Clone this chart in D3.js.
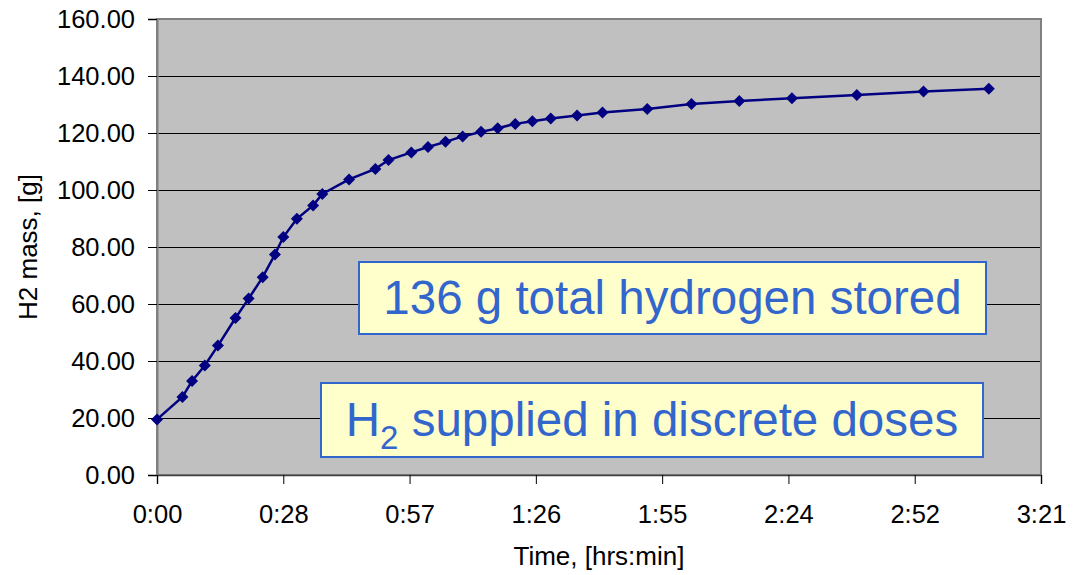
<!DOCTYPE html>
<html>
<head>
<meta charset="utf-8">
<script src="https://cdn.jsdelivr.net/npm/d3@7"></script>
<style>
  html, body { margin: 0; padding: 0; background: #fff; }
  svg { display: block; }
  text { font-family: Arial, "Liberation Sans", sans-serif; }
</style>
</head>
<body>
<svg id="chart" width="1079" height="575"></svg>
<script>
// ---- data (time in minutes, H2 mass in grams) ----
const timeMin = [0, 5.8, 8.0, 10.9, 13.9, 17.9, 20.9, 24.1, 26.9, 28.8, 31.9, 35.6, 37.7,
  43.8, 49.8, 52.8, 58.0, 61.8, 65.8, 69.7, 73.9, 77.7, 81.7, 85.6, 89.8, 95.8, 101.6,
  111.8, 121.9, 132.8, 144.8, 159.6, 174.8, 189.7];
const massG = [19.5, 27.4, 33.0, 38.4, 45.4, 55.1, 61.9, 69.4, 77.4, 83.5, 89.9, 94.6, 98.6,
  103.7, 107.4, 110.5, 113.2, 115.1, 116.9, 118.8, 120.4, 121.7, 123.2, 124.1, 125.1, 126.1, 127.2,
  128.4, 130.2, 131.2, 132.2, 133.3, 134.6, 135.5];
const xTicks = [0, 28.8, 57.6, 86.4, 115.2, 144, 172.8, 201.6];
const xTickLabels = ["0:00", "0:28", "0:57", "1:26", "1:55", "2:24", "2:52", "3:21"];
const yTicks = [0, 20, 40, 60, 80, 100, 120, 140, 160];
const yTickLabels = ["0.00", "20.00", "40.00", "60.00", "80.00", "100.00", "120.00", "140.00", "160.00"];
const xTitle = "Time, [hrs:min]";
const yTitle = "H2 mass, [g]";
const note1 = "136 g total hydrogen stored";

// ---- layout ----
const L = 157, R = 1041, T = 19, B = 475;
const svg = d3.select("#chart");
const x = d3.scaleLinear().domain([0, 201.6]).range([L, R]);
const y = d3.scaleLinear().domain([0, 160]).range([B, T]);

// plot area
svg.append("rect").attr("x", L).attr("y", T).attr("width", R - L).attr("height", B - T)
  .attr("fill", "#C0C0C0");

// gridlines
svg.append("g").selectAll("line").data(yTicks.slice(1)).join("line")
  .attr("x1", L).attr("x2", R)
  .attr("y1", d => Math.round(y(d)) + 0.5).attr("y2", d => Math.round(y(d)) + 0.5)
  .attr("stroke", "#000").attr("stroke-width", 1);

// plot border
svg.append("rect").attr("x", L).attr("y", T).attr("width", R - L).attr("height", B - T)
  .attr("fill", "none").attr("stroke", "#808080").attr("stroke-width", 2);

// y axis
const yAxis = d3.axisLeft(y).tickValues(yTicks).tickSize(9).tickPadding(13)
  .tickFormat((d, i) => yTickLabels[i]);
const gy = svg.append("g").attr("transform", `translate(${L},0)`).call(yAxis);
gy.select(".domain").attr("stroke", "#808080").attr("stroke-width", 2);
gy.selectAll(".tick line").attr("stroke", "#000");
gy.selectAll(".tick text").attr("font-size", 25.5).attr("fill", "#000")
  .attr("font-family", "Arial, 'Liberation Sans', sans-serif");

// x axis
const xAxis = d3.axisBottom(x).tickValues(xTicks).tickSize(9)
  .tickFormat((d, i) => xTickLabels[i]);
const gx = svg.append("g").attr("transform", `translate(0,${B})`).call(xAxis);
gx.select(".domain").attr("stroke", "#404040").attr("stroke-width", 1.5);
gx.selectAll(".tick line").attr("stroke", "#000");
gx.selectAll(".tick text").attr("font-size", 25.5).attr("fill", "#000")
  .attr("font-family", "Arial, 'Liberation Sans', sans-serif")
  .attr("dy", 0).attr("y", 48);

// axis titles
svg.append("text").attr("x", (L + R) / 2).attr("y", 565).attr("text-anchor", "middle")
  .attr("font-size", 26).attr("fill", "#000").text(xTitle);
svg.append("text").attr("transform", `translate(37,${(T + B) / 2}) rotate(-90)`)
  .attr("text-anchor", "middle").attr("font-size", 26).attr("fill", "#000").text(yTitle);

// series
const pts = timeMin.map((t, i) => [t, massG[i]]);
svg.append("path").datum(pts)
  .attr("d", d3.line().x(d => x(d[0])).y(d => y(d[1])))
  .attr("fill", "none").attr("stroke", "#000080").attr("stroke-width", 2.5);
const diamond = d3.symbol().type(d3.symbolSquare).size(72);
svg.append("g").selectAll("path").data(pts).join("path")
  .attr("transform", d => `translate(${x(d[0])},${y(d[1])}) rotate(45)`)
  .attr("d", diamond).attr("fill", "#000080");

// annotation boxes
const blue = "#3366CC";
svg.append("rect").attr("x", 359).attr("y", 262).attr("width", 627).attr("height", 72)
  .attr("fill", "#FFFFCC").attr("stroke", blue).attr("stroke-width", 2);
svg.append("text").attr("x", 672.5).attr("y", 314).attr("text-anchor", "middle")
  .attr("font-size", 47.5).attr("fill", blue).text(note1);

svg.append("rect").attr("x", 321).attr("y", 383).attr("width", 662).attr("height", 74)
  .attr("fill", "#FFFFCC").attr("stroke", blue).attr("stroke-width", 2);
const t2 = svg.append("text").attr("x", 652).attr("y", 435.5).attr("text-anchor", "middle")
  .attr("font-size", 47.5).attr("fill", blue);
t2.append("tspan").text("H");
t2.append("tspan").attr("font-size", 33).attr("dy", 13.5).text("2");
t2.append("tspan").attr("dy", -13.5).text(" supplied in discrete doses");
</script>
</body>
</html>
